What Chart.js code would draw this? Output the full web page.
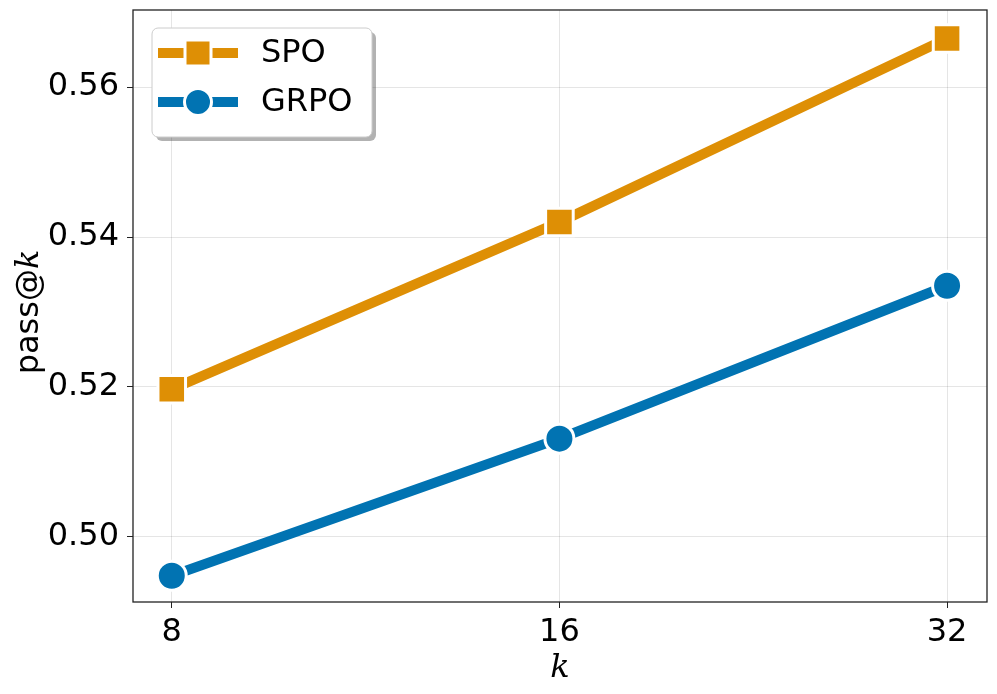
<!DOCTYPE html>
<html>
<head>
<meta charset="utf-8">
<script src="https://cdn.jsdelivr.net/npm/chart.js@4"></script>
<style>
  html, body { margin: 0; padding: 0; background: #fff; }
  #wrap { width: 997px; height: 694px; }
</style>
</head>
<body>
<div id="wrap"><canvas id="chart" width="997" height="694"></canvas></div>
<script>
const kValues = [8, 16, 32];
const spoValues = [0.5197, 0.5420, 0.5665];
const grpoValues = [0.4948, 0.5131, 0.5335];
const yTicks = [0.50, 0.52, 0.54, 0.56];
const seriesNames = ['SPO', 'GRPO'];

const orange = '#DE8F05';
const blue = '#0173B2';
const tickFont = { family: 'DejaVu Sans', size: 32 };

// x positions on a log2 scale so 8, 16, 32 are evenly spaced
const toPoints = vals => vals.map((v, i) => ({ x: Math.log2(kValues[i]), y: v }));

// frame on all four sides
const framePlugin = {
    id: 'frame',
    afterDraw(chart) {
        const { ctx, chartArea: a } = chart;
        ctx.save();
        ctx.strokeStyle = '#222';
        ctx.lineWidth = 1.3;
        ctx.strokeRect(a.left, a.top, a.right - a.left, a.bottom - a.top);
        ctx.restore();
    }
};

// y title: "pass@" upright, "k" italic
const yTitlePlugin = {
    id: 'yTitle',
    afterDraw(chart) {
        const { ctx, chartArea: a } = chart;
        const cy = (a.top + a.bottom) / 2 + 6;
        ctx.save();
        ctx.translate(30, cy);
        ctx.rotate(-Math.PI / 2);
        ctx.fillStyle = '#000';
        ctx.textBaseline = 'middle';
        ctx.font = '32px "DejaVu Sans"';
        const w1 = ctx.measureText('pass@').width;
        ctx.font = 'italic 32px "DejaVu Serif"';
        const w2 = ctx.measureText('k').width;
        const start = -(w1 + w2) / 2;
        ctx.font = '32px "DejaVu Sans"';
        ctx.textAlign = 'left';
        ctx.fillText('pass@', start, 0);
        ctx.font = 'italic 32px "DejaVu Serif"';
        ctx.fillText('k', start + w1, 0);
        ctx.restore();
    }
};

// legend box in upper left, with a drop shadow
const legendPlugin = {
    id: 'boxLegend',
    afterDraw(chart) {
        const { ctx, chartArea: a } = chart;
        const x = a.left + 19, y = a.top + 18, w = 220, h = 109;
        ctx.save();
        const round = (ox, oy) => {
            ctx.beginPath();
            ctx.roundRect(x + ox, y + oy, w, h, 6);
        };
        round(4, 4);
        ctx.fillStyle = 'rgba(0,0,0,0.3)';
        ctx.fill();
        round(0, 0);
        ctx.fillStyle = '#fff';
        ctx.fill();
        ctx.strokeStyle = '#ccc';
        ctx.lineWidth = 1;
        ctx.stroke();

        chart.data.datasets.forEach((ds, i) => {
            const cy = y + 25 + i * 49;
            ctx.strokeStyle = ds.borderColor;
            ctx.lineWidth = 10;
            ctx.beginPath();
            ctx.moveTo(x + 6, cy);
            ctx.lineTo(x + 86, cy);
            ctx.stroke();
            ctx.fillStyle = ds.backgroundColor;
            ctx.strokeStyle = '#fff';
            ctx.lineWidth = 3;
            ctx.beginPath();
            if (ds.pointStyle === 'rect') {
                ctx.rect(x + 46 - 13, cy - 13, 26, 26);
            } else {
                ctx.arc(x + 46, cy, 13.5, 0, Math.PI * 2);
            }
            ctx.fill();
            ctx.stroke();
            ctx.fillStyle = '#000';
            ctx.font = '32px "DejaVu Sans"';
            ctx.textBaseline = 'middle';
            ctx.textAlign = 'left';
            ctx.fillText(ds.label, x + 109, cy + 1);
        });
        ctx.restore();
    }
};

const ctx = document.getElementById('chart').getContext('2d');
new Chart(ctx, {
    type: 'line',
    data: {
        datasets: [
            {
                label: seriesNames[0],
                data: toPoints(spoValues),
                borderColor: orange,
                backgroundColor: orange,
                borderWidth: 10,
                pointStyle: 'rect',
                pointRadius: 19.5,
                pointHoverRadius: 19.5,
                pointBorderColor: '#fff',
                pointBorderWidth: 3
            },
            {
                label: seriesNames[1],
                data: toPoints(grpoValues),
                borderColor: blue,
                backgroundColor: blue,
                borderWidth: 10,
                pointStyle: 'circle',
                pointRadius: 14.5,
                pointHoverRadius: 14.5,
                pointBorderColor: '#fff',
                pointBorderWidth: 3
            }
        ]
    },
    options: {
        responsive: false,
        animation: false,
        layout: { autoPadding: false, padding: { top: 10, right: 10, left: 0, bottom: 0 } },
        plugins: {
            legend: { display: false },
            tooltip: { enabled: false }
        },
        scales: {
            x: {
                type: 'linear',
                min: 2.9,
                max: 5.103,
                afterBuildTicks: scale => { scale.ticks = kValues.map(k => ({ value: Math.log2(k) })); },
                afterFit: scale => {
                    scale.height = 92;
                    scale.paddingLeft = 0;
                    scale.paddingRight = 0;
                },
                ticks: {
                    color: '#000',
                    font: tickFont,
                    padding: 5,
                    maxRotation: 0,
                    callback: v => String(Math.round(Math.pow(2, v)))
                },
                grid: {
                    color: 'rgba(0,0,0,0.1)',
                    tickColor: '#222',
                    tickLength: 6,
                    lineWidth: 1
                },
                border: { display: false },
                title: {
                    display: true,
                    text: 'k',
                    color: '#000',
                    font: { family: 'DejaVu Serif', style: 'italic', size: 32 },
                    padding: { top: 0, bottom: 6 }
                }
            },
            y: {
                min: 0.4913,
                max: 0.5703,
                afterBuildTicks: scale => { scale.ticks = yTicks.map(v => ({ value: v })); },
                afterFit: scale => {
                    scale.width = 133;
                    scale.paddingTop = 0;
                    scale.paddingBottom = 0;
                },
                ticks: {
                    color: '#000',
                    font: tickFont,
                    padding: 8,
                    callback: v => v.toFixed(2)
                },
                grid: {
                    color: 'rgba(0,0,0,0.1)',
                    tickColor: '#222',
                    tickLength: 6,
                    lineWidth: 1
                },
                border: { display: false }
            }
        }
    },
    plugins: [framePlugin, yTitlePlugin, legendPlugin]
});
</script>
</body>
</html>
